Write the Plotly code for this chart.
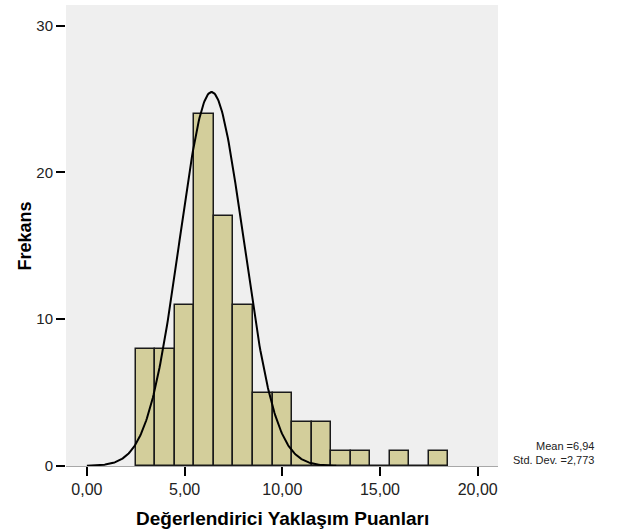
import numpy as np
import plotly.graph_objects as go

# Histogram data (bins of width 1 centred on integers)
bin_centers = [3, 4, 5, 6, 7, 8, 9, 10, 11, 12, 13, 14, 15, 16, 17, 18]
counts = [8, 8, 11, 24, 17, 11, 5, 5, 3, 3, 1, 1, 0, 1, 0, 1]

# Normal curve as drawn in the chart (peak height, centre, spread)
curve_peak = 25.47
curve_center = 6.38
curve_sd = 1.63

x_ticks = [0, 5, 10, 15, 20]
x_tick_labels = ["0,00", "5,00", "10,00", "15,00", "20,00"]
y_ticks = [0, 10, 20, 30]
y_tick_labels = ["0", "10", "20", "30"]

x_title = "Değerlendirici Yaklaşım Puanları"
y_title = "Frekans"
stats_text = "Mean =6,94<br>Std. Dev. =2,773"

cx = np.linspace(0, 2 * curve_center, 300)
cy = curve_peak * np.exp(-((cx - curve_center) ** 2) / (2 * curve_sd ** 2))

fig = go.Figure()
fig.add_trace(go.Bar(
    x=bin_centers, y=counts, width=1,
    marker=dict(color="#D3CE9B", line=dict(color="#1a1a1a", width=1.5)),
    showlegend=False, hoverinfo="skip",
))
fig.add_trace(go.Scatter(
    x=cx, y=cy, mode="lines",
    line=dict(color="black", width=2),
    showlegend=False, hoverinfo="skip",
))

fig.update_layout(
    width=625, height=531,
    margin=dict(l=66, r=127, t=5, b=65),
    paper_bgcolor="white",
    plot_bgcolor="#EFEFEF",
    bargap=0,
    font=dict(family="Liberation Sans, Arial, sans-serif", color="#222"),
    xaxis=dict(
        range=[-1.07, 21.04],
        tickvals=x_ticks, ticktext=x_tick_labels,
        ticks="outside", ticklen=9, tickwidth=2, tickcolor="black",
        tickfont=dict(size=16, color="#222"),
        showgrid=False, zeroline=False,
        showline=True, linecolor="#A8A8A8", linewidth=1,
    ),
    yaxis=dict(
        range=[0, 31.4],
        tickvals=y_ticks, ticktext=y_tick_labels,
        ticks="outside", ticklen=9, tickwidth=2, tickcolor="black",
        tickfont=dict(size=15, color="#222"),
        showgrid=False, zeroline=False, showline=False,
    ),
    annotations=[
        dict(text="<b>" + x_title + "</b>", xref="paper", yref="paper",
             x=0.502, y=-0.113, xanchor="center", yanchor="middle",
             showarrow=False, font=dict(size=19, color="black")),
        dict(text="<b>" + y_title + "</b>", xref="paper", yref="paper",
             x=-0.095, y=0.5, xanchor="center", yanchor="middle", textangle=-90,
             showarrow=False, font=dict(size=18, color="black")),
        dict(text=stats_text, xref="paper", yref="paper",
             x=1.227, y=-0.004, xanchor="right", yanchor="bottom",
             align="right", showarrow=False,
             font=dict(size=11, color="#222")),
    ],
)

fig.write_html("out.html")
